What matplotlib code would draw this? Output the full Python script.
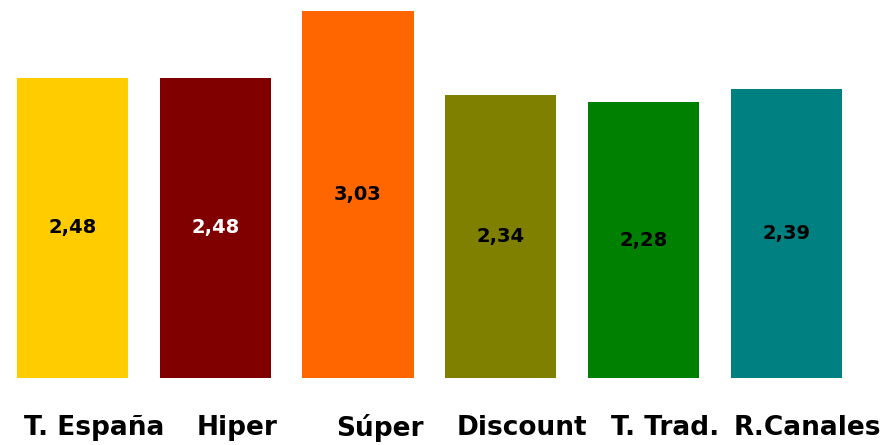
import matplotlib
matplotlib.use("Agg")
import matplotlib.pyplot as plt

# data
categories = ["T. España", "Hiper", "Súper", "Discount", "T. Trad.", "R.Canales"]
values = [2.48, 2.48, 3.03, 2.34, 2.28, 2.39]
value_labels = ["2,48", "2,48", "3,03", "2,34", "2,28", "2,39"]
colors = ["#FFCC00", "#800000", "#FF6600", "#808000", "#008000", "#008080"]
label_colors = ["black", "white", "black", "black", "black", "black"]

fig = plt.figure(figsize=(8.86, 4.45), dpi=100)
ax = fig.add_axes([0, 0, 1, 1])

x = list(range(len(categories)))
width = 0.78
ax.bar(x, values, width=width, color=colors)

# value labels in the middle of each bar
for xi, v, txt, c in zip(x, values, value_labels, label_colors):
    ax.text(xi, v / 2, txt, ha="center", va="center", color=c,
            fontsize=14, fontweight="bold", family="DejaVu Sans")

# category names under the bars (slightly shifted right like the original)
for xi, name in zip(x, categories):
    ax.text(xi + 0.15, -0.41, name, ha="center", va="center", color="black",
            fontsize=19, fontweight="bold", family="DejaVu Sans")

px = 142.7
ax.set_xlim(-width / 2 - 17 / px, -width / 2 + (886 - 17) / px)
ax.set_ylim(-67 / 121, (445 - 67) / 121)
ax.axis("off")

fig.savefig("out.png", dpi=100, facecolor="white")
